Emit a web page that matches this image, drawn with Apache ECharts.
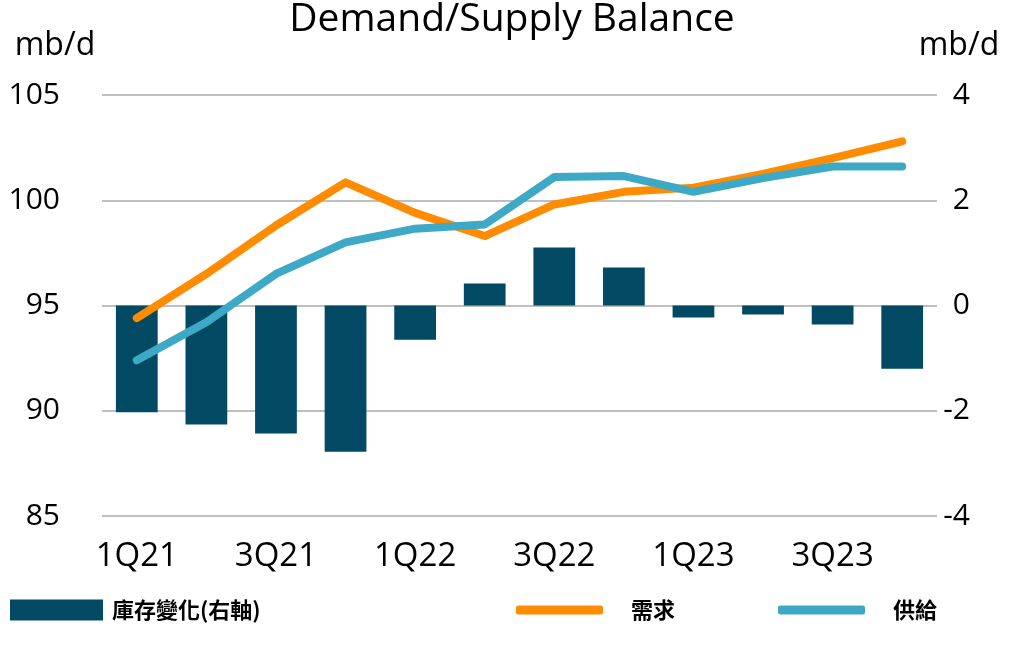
<!DOCTYPE html>
<html>
<head>
<meta charset="utf-8">
<script src="https://cdn.jsdelivr.net/npm/echarts@6/dist/echarts.min.js"></script>
<style>html,body{margin:0;padding:0;background:#fff;}#c{width:1024px;height:664px;}</style>
</head>
<body>
<div id="c"></div>
<script>
const categories = ['1Q21','2Q21','3Q21','4Q21','1Q22','2Q22','3Q22','4Q22','1Q23','2Q23','3Q23','4Q23'];
const inventoryChange = [-2.03, -2.26, -2.43, -2.78, -0.65, 0.42, 1.10, 0.72, -0.23, -0.17, -0.36, -1.20];
const demand = [94.4, 96.5, 98.8, 100.85, 99.4, 98.3, 99.8, 100.4, 100.6, 101.25, 102.0, 102.8];
const supply = [92.4, 94.2, 96.5, 98.0, 98.65, 98.85, 101.1, 101.15, 100.4, 101.05, 101.6, 101.6];
const leftTicks = {min: 85, max: 105, interval: 5};
const rightTicks = {min: -4, max: 4, interval: 2};
const names = {bar: '庫存變化(右軸)', demand: '需求', supply: '供給'};

const FONT = '"Open Sans", "Noto Sans", sans-serif';
const CJK = '"Noto Sans CJK TC", "Noto Sans", sans-serif';
const chart = echarts.init(document.getElementById('c'), null, {renderer: 'canvas'});
chart.setOption({
  animation: false,
  backgroundColor: '#fff',
  title: {
    text: 'Demand/Supply Balance', left: 'center', top: -5,
    textStyle: {fontFamily: FONT, fontSize: 39, fontWeight: 'normal', color: '#000'}
  },
  grid: {left: 102, right: 87, top: 95, bottom: 148},
  legend: [
    {data: [names.bar], left: 5, top: 594, icon: 'rect', itemWidth: 93, itemHeight: 21,
     textStyle: {fontFamily: CJK, fontSize: 22, fontWeight: 'bold', color: '#000', padding: [0,0,0,4]}},
    {data: [names.demand], left: 511, top: 594, icon: 'roundRect', itemWidth: 87, itemHeight: 9,
     textStyle: {fontFamily: CJK, fontSize: 22, fontWeight: 'bold', color: '#000', padding: [0,0,0,23]}},
    {data: [names.supply], left: 773, top: 594, icon: 'roundRect', itemWidth: 87, itemHeight: 9,
     textStyle: {fontFamily: CJK, fontSize: 22, fontWeight: 'bold', color: '#000', padding: [0,0,0,23]}}
  ],
  xAxis: {
    type: 'category', data: categories,
    axisLine: {show: false}, axisTick: {show: false},
    axisLabel: {interval: 1, margin: 24, fontFamily: FONT, fontSize: 33, color: '#000'}
  },
  yAxis: [
    {type: 'value', min: leftTicks.min, max: leftTicks.max, interval: leftTicks.interval,
     name: 'mb/d', nameLocation: 'end', nameGap: 33,
     nameTextStyle: {fontFamily: FONT, fontSize: 32, color: '#000', align: 'center', padding: [0, 94, 0, 0]},
     axisLine: {show: false}, axisTick: {show: false},
     axisLabel: {margin: 42, fontFamily: FONT, fontSize: 30, color: '#000'},
     splitLine: {lineStyle: {color: '#BFBFBF', width: 2}}},
    {type: 'value', min: rightTicks.min, max: rightTicks.max, interval: rightTicks.interval,
     name: 'mb/d', nameLocation: 'end', nameGap: 33,
     nameTextStyle: {fontFamily: FONT, fontSize: 32, color: '#000', align: 'center', padding: [0, 0, 0, 44]},
     axisLine: {show: false}, axisTick: {show: false},
     axisLabel: {margin: 33, align: 'right', fontFamily: FONT, fontSize: 30, color: '#000'},
     splitLine: {show: false}}
  ],
  series: [
    {name: names.bar, type: 'bar', yAxisIndex: 1, data: inventoryChange, barWidth: '60%',
     itemStyle: {color: '#024A63'}},
    {name: names.demand, type: 'line', yAxisIndex: 0, data: demand, showSymbol: false, symbol: 'none',
     lineStyle: {color: '#FF8C00', width: 8, cap: 'round', join: 'round'}, itemStyle: {color: '#FF8C00'}},
    {name: names.supply, type: 'line', yAxisIndex: 0, data: supply, showSymbol: false, symbol: 'none',
     lineStyle: {color: '#3EA9C7', width: 8, cap: 'round', join: 'round'}, itemStyle: {color: '#3EA9C7'}}
  ]
});
</script>
</body>
</html>
